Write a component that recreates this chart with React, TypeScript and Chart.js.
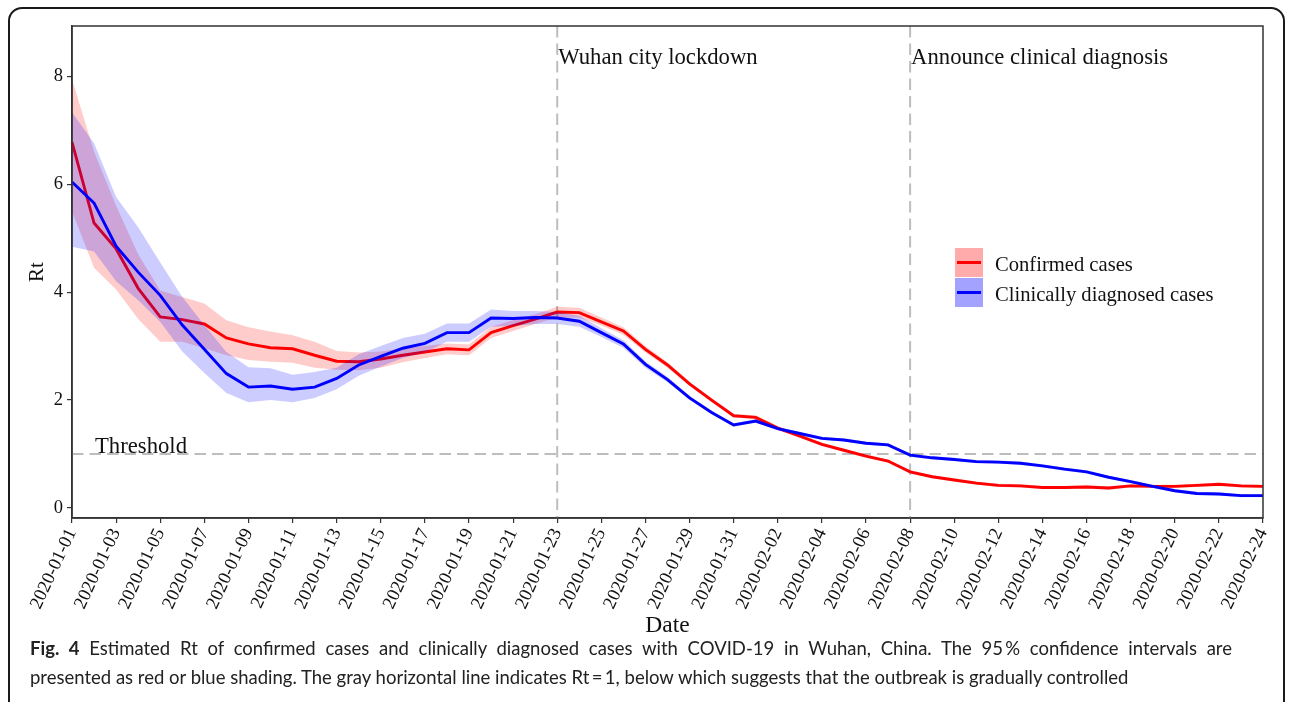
import React, { useEffect, useRef } from "react";
import { Chart, registerables } from "chart.js";

Chart.register(...registerables);

const dates = [
  "2020-01-01", "2020-01-02", "2020-01-03", "2020-01-04", "2020-01-05", "2020-01-06", "2020-01-07",
  "2020-01-08", "2020-01-09", "2020-01-10", "2020-01-11", "2020-01-12", "2020-01-13", "2020-01-14",
  "2020-01-15", "2020-01-16", "2020-01-17", "2020-01-18", "2020-01-19", "2020-01-20", "2020-01-21",
  "2020-01-22", "2020-01-23", "2020-01-24", "2020-01-25", "2020-01-26", "2020-01-27", "2020-01-28",
  "2020-01-29", "2020-01-30", "2020-01-31", "2020-02-01", "2020-02-02", "2020-02-03", "2020-02-04",
  "2020-02-05", "2020-02-06", "2020-02-07", "2020-02-08", "2020-02-09", "2020-02-10", "2020-02-11",
  "2020-02-12", "2020-02-13", "2020-02-14", "2020-02-15", "2020-02-16", "2020-02-17", "2020-02-18",
  "2020-02-19", "2020-02-20", "2020-02-21", "2020-02-22", "2020-02-23", "2020-02-24",
];

const confirmed = [
  6.78, 5.28, 4.80, 4.07, 3.54, 3.49, 3.41, 3.15, 3.04, 2.97, 2.95, 2.83, 2.72, 2.71, 2.76, 2.83,
  2.89, 2.95, 2.93, 3.25, 3.38, 3.50, 3.63, 3.62, 3.45, 3.28, 2.94, 2.65, 2.30, 2.00, 1.71,
  1.68, 1.48, 1.33, 1.18, 1.07, 0.96, 0.87, 0.67, 0.58, 0.52, 0.46, 0.42, 0.41, 0.38, 0.38, 0.39,
  0.37, 0.41, 0.40, 0.40, 0.42, 0.44, 0.41, 0.40,
];
const confirmedUpper = [
  7.95, 6.60, 5.60, 4.70, 4.03, 3.91, 3.79, 3.48, 3.35, 3.27, 3.20, 3.08, 2.91, 2.88, 2.90, 2.96,
  3.00, 3.05, 3.03, 3.36, 3.48, 3.59, 3.73, 3.71, 3.53, 3.35, 3.00, 2.70, 2.34, 2.04, 1.74,
  1.72, 1.52, 1.36, 1.21, 1.10, 0.99, 0.90, 0.70, 0.61, 0.55, 0.49, 0.45, 0.44, 0.41, 0.41, 0.42,
  0.40, 0.44, 0.43, 0.43, 0.45, 0.47, 0.44, 0.43,
];
const confirmedLower = [
  5.50, 4.45, 4.05, 3.50, 3.08, 3.08, 2.96, 2.83, 2.74, 2.71, 2.69, 2.60, 2.56, 2.55, 2.60, 2.70,
  2.78, 2.85, 2.83, 3.15, 3.28, 3.41, 3.53, 3.53, 3.38, 3.21, 2.88, 2.60, 2.26, 1.96, 1.68,
  1.64, 1.44, 1.30, 1.15, 1.04, 0.93, 0.84, 0.64, 0.55, 0.49, 0.43, 0.39, 0.38, 0.35, 0.35, 0.36,
  0.34, 0.38, 0.37, 0.37, 0.39, 0.41, 0.38, 0.37,
];

const clinical = [
  6.04, 5.65, 4.85, 4.37, 3.94, 3.39, 2.94, 2.49, 2.24, 2.26, 2.20, 2.24, 2.40, 2.65, 2.81, 2.96,
  3.05, 3.25, 3.25, 3.52, 3.51, 3.53, 3.52, 3.46, 3.25, 3.04, 2.66, 2.38, 2.04, 1.77, 1.54,
  1.61, 1.47, 1.38, 1.29, 1.26, 1.20, 1.17, 0.98, 0.93, 0.90, 0.86, 0.85, 0.83, 0.78, 0.72, 0.67,
  0.57, 0.49, 0.40, 0.32, 0.27, 0.26, 0.23, 0.23,
];
const clinicalUpper = [
  7.33, 6.76, 5.76, 5.20, 4.55, 3.91, 3.39, 2.89, 2.61, 2.59, 2.47, 2.52, 2.60, 2.85, 3.00, 3.15,
  3.23, 3.42, 3.42, 3.68, 3.65, 3.65, 3.63, 3.56, 3.33, 3.11, 2.72, 2.43, 2.08, 1.80, 1.57,
  1.64, 1.50, 1.41, 1.32, 1.29, 1.23, 1.20, 1.01, 0.96, 0.93, 0.89, 0.88, 0.86, 0.81, 0.75, 0.70,
  0.60, 0.52, 0.43, 0.35, 0.30, 0.29, 0.26, 0.26,
];
const clinicalLower = [
  4.84, 4.75, 4.20, 3.85, 3.45, 2.90, 2.50, 2.13, 1.96, 2.00, 1.96, 2.04, 2.20, 2.45, 2.62, 2.78,
  2.88, 3.08, 3.08, 3.36, 3.37, 3.41, 3.41, 3.36, 3.17, 2.97, 2.60, 2.33, 2.00, 1.74, 1.51,
  1.58, 1.44, 1.35, 1.26, 1.23, 1.17, 1.14, 0.95, 0.90, 0.87, 0.83, 0.82, 0.80, 0.75, 0.69, 0.64,
  0.54, 0.46, 0.37, 0.29, 0.24, 0.23, 0.20, 0.20,
];

const yTicks = [0, 2, 4, 6, 8];
const threshold = 1;
const thresholdLabel = "Threshold";
const eventDates = ["2020-01-23", "2020-02-08"];
const eventLabels = ["Wuhan city lockdown", "Announce clinical diagnosis"];
const seriesNames = ["Confirmed cases", "Clinically diagnosed cases"];

const SERIF = "'Liberation Serif', 'Times New Roman', serif";
const RED = "#FF0000";
const BLUE = "#0000FF";
const RED_BAND = "rgba(255,0,0,0.2)";
const BLUE_BAND = "rgba(0,0,255,0.2)";
const DASH_GRAY = "#BDBDBD";

export default function App() {
  const ref = useRef<HTMLCanvasElement>(null);

  useEffect(() => {
    const canvas = ref.current;
    if (!canvas) return;

    const overlay = {
      id: "overlay",
      beforeDatasetsDraw(chart: any) {
        const { ctx, chartArea, scales } = chart;
        const xs = scales.x;
        const ys = scales.y;
        ctx.save();
        ctx.strokeStyle = DASH_GRAY;
        ctx.lineWidth = 2;
        ctx.setLineDash([11.5, 6]);
        const yt = ys.getPixelForValue(threshold);
        ctx.beginPath();
        ctx.moveTo(chartArea.left, yt);
        ctx.lineTo(chartArea.right, yt);
        ctx.stroke();
        eventDates.forEach((d) => {
          const x = xs.getPixelForValue(dates.indexOf(d));
          ctx.beginPath();
          ctx.moveTo(x, chartArea.top);
          ctx.lineTo(x, chartArea.bottom);
          ctx.stroke();
        });
        ctx.restore();
      },
      afterDatasetsDraw(chart: any) {
        const { ctx, chartArea, scales } = chart;
        const xs = scales.x;
        const ys = scales.y;
        ctx.save();
        // panel border
        ctx.strokeStyle = "#333333";
        ctx.lineWidth = 1.5;
        ctx.setLineDash([]);
        ctx.strokeRect(chartArea.left, chartArea.top, chartArea.right - chartArea.left, chartArea.bottom - chartArea.top);

        // annotations
        ctx.fillStyle = "#111111";
        ctx.font = `22.7px ${SERIF}`;
        ctx.textAlign = "left";
        ctx.textBaseline = "alphabetic";
        ctx.fillText(thresholdLabel, chartArea.left + 23, ys.getPixelForValue(threshold) - 1);
        eventDates.forEach((d, i) => {
          const x = xs.getPixelForValue(dates.indexOf(d));
          ctx.fillText(eventLabels[i], x + 1, chartArea.top + 38);
        });

        // legend
        const lx = chartArea.left + 883;
        const ly = chartArea.top + 222;
        const keyW = 28;
        const keyH = 29;
        const fills = ["rgba(255,0,0,0.33)", "rgba(0,0,255,0.36)"];
        const strokes = [RED, BLUE];
        ctx.font = `20.6px ${SERIF}`;
        ctx.textBaseline = "middle";
        seriesNames.forEach((name, i) => {
          const top = ly + i * (keyH + 1);
          ctx.fillStyle = fills[i];
          ctx.fillRect(lx, top, keyW, keyH);
          ctx.strokeStyle = strokes[i];
          ctx.lineWidth = 3;
          ctx.beginPath();
          ctx.moveTo(lx + 2, top + keyH / 2);
          ctx.lineTo(lx + keyW - 2, top + keyH / 2);
          ctx.stroke();
          ctx.fillStyle = "#111111";
          ctx.fillText(name, lx + 40, top + keyH / 2 + 3);
        });
        ctx.restore();
      },
    };

    const bandCommon = {
      borderColor: "rgba(0,0,0,0)",
      borderWidth: 0,
      pointRadius: 0,
      pointHoverRadius: 0,
      tension: 0,
    };

    const chart = new Chart(canvas, {
      type: "line",
      data: {
        labels: dates,
        datasets: [
          { ...bandCommon, label: "Confirmed upper", data: confirmedUpper, fill: "+1", backgroundColor: RED_BAND, order: 6 },
          { ...bandCommon, label: "Confirmed lower", data: confirmedLower, fill: false, order: 5 },
          { label: seriesNames[0], data: confirmed, borderColor: RED, borderWidth: 2.9, pointRadius: 0, fill: false, tension: 0, order: 4 },
          { ...bandCommon, label: "Clinical upper", data: clinicalUpper, fill: "+1", backgroundColor: BLUE_BAND, order: 3 },
          { ...bandCommon, label: "Clinical lower", data: clinicalLower, fill: false, order: 2 },
          { label: seriesNames[1], data: clinical, borderColor: BLUE, borderWidth: 2.9, pointRadius: 0, fill: false, tension: 0, order: 1 },
        ],
      },
      options: {
        responsive: false,
        animation: false,
        layout: { padding: { top: 26, right: 29, left: 0, bottom: 0 } },
        plugins: {
          legend: { display: false },
          tooltip: { enabled: false },
        },
        scales: {
          x: {
            type: "category",
            offset: false,
            grid: { display: true, drawOnChartArea: false, drawTicks: true, tickLength: 5, color: "#333333", lineWidth: 1.2 },
            border: { display: true, color: "#333333", width: 1.5 },
            ticks: {
              autoSkip: false,
              minRotation: 65,
              maxRotation: 65,
              padding: 2,
              color: "#111111",
              font: { family: SERIF, size: 18.5 },
              callback: (_v: any, i: number) => (i % 2 === 0 ? dates[i] : null),
            },
            title: {
              display: true,
              text: "Date",
              color: "#111111",
              font: { family: SERIF, size: 23.5 },
              padding: { top: 0, bottom: 5 },
            },
            afterFit: (s: any) => {
              s.height = 127;
            },
          },
          y: {
            type: "linear",
            min: -0.185,
            max: 8.93,
            afterBuildTicks: (s: any) => {
              s.ticks = yTicks.map((v) => ({ value: v }));
            },
            grid: { display: true, drawOnChartArea: false, drawTicks: true, tickLength: 5, color: "#333333", lineWidth: 1.2 },
            border: { display: true, color: "#333333", width: 1.5 },
            ticks: {
              padding: 4,
              color: "#111111",
              font: { family: SERIF, size: 18.5 },
              callback: (v: any) => String(v),
            },
            title: {
              display: true,
              text: "Rt",
              color: "#111111",
              font: { family: SERIF, size: 21 },
              padding: { top: 25, bottom: 0 },
            },
            afterFit: (s: any) => {
              s.width = 72;
            },
          },
        },
      },
      plugins: [overlay],
    });

    return () => chart.destroy();
  }, []);

  return (
    <div style={{ position: "fixed", inset: 0, background: "#ffffff", overflow: "hidden" }}>
      <div
        style={{
          position: "absolute",
          left: 8,
          top: 7,
          width: 1277,
          height: 760,
          border: "2px solid #1a1a1a",
          borderRadius: 14,
          boxSizing: "border-box",
        }}
      />
      <canvas
        ref={ref}
        width={1292}
        height={645}
        style={{ position: "absolute", left: 0, top: 0, width: 1292, height: 645 }}
      />
      <div
        style={{
          position: "absolute",
          left: 30,
          top: 634,
          width: 1202,
          fontFamily: "Lato, 'Open Sans', sans-serif",
          fontSize: 18.5,
          lineHeight: "28.5px",
          color: "#222222",
        }}
      >
        <div style={{ whiteSpace: "nowrap", textAlign: "justify", textAlignLast: "justify" } as any}>
          <b>Fig. 4</b> Estimated Rt of confirmed cases and clinically diagnosed cases with COVID-19 in Wuhan, China. The 95{"\u2009"}% confidence intervals are
        </div>
        <div style={{ whiteSpace: "nowrap" }}>
          presented as red or blue shading. The gray horizontal line indicates Rt{"\u2009"}={"\u2009"}1, below which suggests that the outbreak is gradually controlled
        </div>
      </div>
    </div>
  );
}
